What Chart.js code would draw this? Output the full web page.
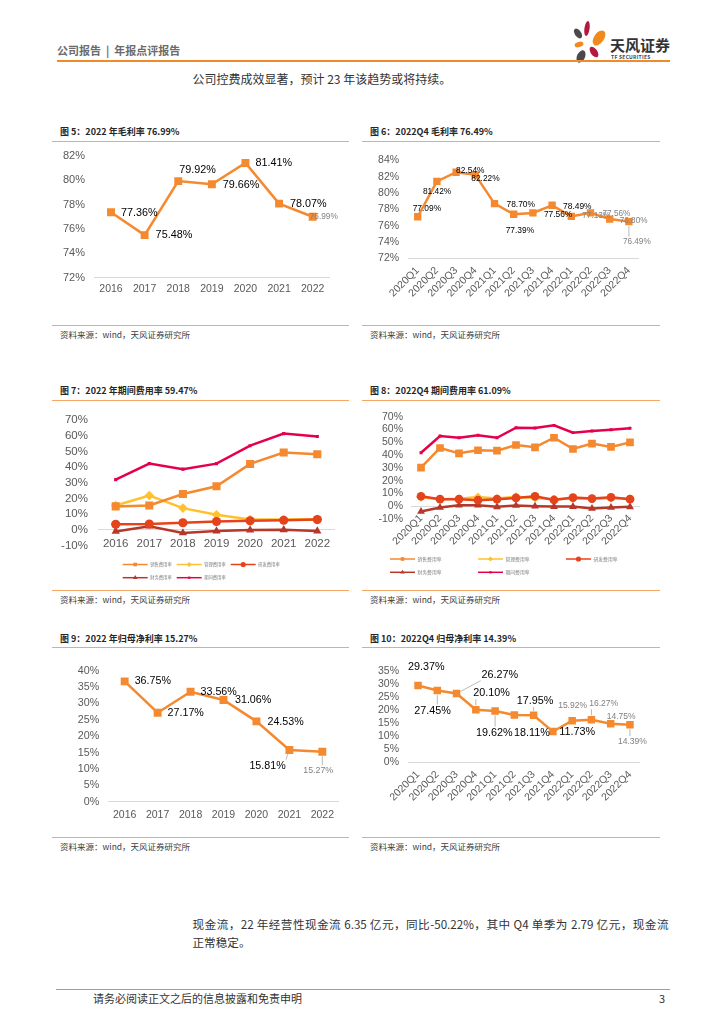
<!DOCTYPE html>
<html lang="zh-CN">
<head>
<meta charset="utf-8">
<title>年报点评报告</title>
<script src="https://cdn.jsdelivr.net/npm/chart.js@4.4.1/dist/chart.umd.min.js"></script>
<style>
  html, body { margin: 0; padding: 0; background: #fff; }
  body { position: relative; width: 724px; height: 1024px; overflow: hidden; font-family: "Noto Sans CJK SC", "Liberation Sans", sans-serif; color: #333; }
  .t { position: absolute; white-space: nowrap; line-height: 1; }
  .fig { font-size: 9px; font-weight: bold; color: #262626; }
  .src { font-size: 8.5px; color: #404040; }
  .rule { position: absolute; height: 1px; background: #F5A766; }
  .chart { position: absolute; }
</style>
</head>
<body>

<div class="t" style="left:57px;top:44.6px;font-size:11px;font-weight:bold;color:#6b6b6b">公司报告&nbsp;&nbsp;|&nbsp;&nbsp;年报点评报告</div>
<svg style="position:absolute;left:568px;top:20px" width="42" height="46" viewBox="0 0 42 46">
  <ellipse cx="19" cy="8.5" rx="2.6" ry="7.5" fill="#B3183D" transform="rotate(8 19 8.5)"/>
  <ellipse cx="10" cy="13.5" rx="3.2" ry="5.5" fill="#4A4A4A" transform="rotate(-35 10 13.5)"/>
  <ellipse cx="31" cy="18" rx="5" ry="8.5" fill="#F08A1E" transform="rotate(35 31 18)"/>
  <ellipse cx="11" cy="24.5" rx="4.5" ry="2.6" fill="#F08A1E" transform="rotate(-15 11 24.5)"/>
  <ellipse cx="26" cy="32" rx="3.3" ry="6" fill="#B3183D" transform="rotate(-35 26 32)"/>
  <ellipse cx="13" cy="36.5" rx="4" ry="6.5" fill="#4A4A4A" transform="rotate(25 13 36.5)"/>
</svg>
<div class="t" style="left:610px;top:37.2px;font-size:15px;font-weight:bold;color:#333">天风证券</div>
<div class="t" style="left:611px;top:53.5px;font-size:10px;font-weight:bold;color:#444;transform:scale(0.5);transform-origin:0 0;letter-spacing:0.5px">TF SECURITIES</div>
<div style="position:absolute;left:57px;top:60px;width:613px;height:2px;background:#F08B2A"></div>

<div class="t" style="left:192.5px;top:72.6px;font-size:12px;color:#333">公司控费成效显著，预计 23 年该趋势或将持续。</div>

<div class="t fig" style="left:60px;top:127.3px">图 5：2022 年毛利率 76.99%</div>
<div class="t fig" style="left:370px;top:127.3px">图 6：2022Q4 毛利率 76.49%</div>
<div class="rule" style="left:52px;top:140.5px;width:297px"></div>
<div class="rule" style="left:362px;top:140.5px;width:298px"></div>
<div class="rule" style="left:52px;top:325.2px;width:297px"></div>
<div class="rule" style="left:362px;top:325.2px;width:298px"></div>
<div class="t src" style="left:60px;top:330.3px">资料来源：wind，天风证券研究所</div>
<div class="t src" style="left:370px;top:330.3px">资料来源：wind，天风证券研究所</div>

<div class="t fig" style="left:60px;top:385.7px">图 7：2022 年期间费用率 59.47%</div>
<div class="t fig" style="left:370px;top:385.7px">图 8：2022Q4 期间费用率 61.09%</div>
<div class="rule" style="left:52px;top:399.5px;width:297px"></div>
<div class="rule" style="left:362px;top:399.5px;width:298px"></div>
<div class="rule" style="left:52px;top:590.2px;width:297px"></div>
<div class="rule" style="left:362px;top:590.2px;width:298px"></div>
<div class="t src" style="left:60px;top:595.3px">资料来源：wind，天风证券研究所</div>
<div class="t src" style="left:370px;top:595.3px">资料来源：wind，天风证券研究所</div>

<div class="t fig" style="left:60px;top:634px">图 9：2022 年归母净利率 15.27%</div>
<div class="t fig" style="left:370px;top:634px">图 10：2022Q4 归母净利率 14.39%</div>
<div class="rule" style="left:52px;top:647.2px;width:297px"></div>
<div class="rule" style="left:362px;top:647.2px;width:298px"></div>
<div class="rule" style="left:52px;top:836.8px;width:297px"></div>
<div class="rule" style="left:362px;top:836.8px;width:298px"></div>
<div class="t src" style="left:60px;top:842px">资料来源：wind，天风证券研究所</div>
<div class="t src" style="left:370px;top:842px">资料来源：wind，天风证券研究所</div>

<div style="position:absolute;left:192.5px;top:918.6px;width:476px;font-size:11.6px;line-height:1;text-align:justify;text-align-last:justify;color:#333">现金流，22 年经营性现金流 6.35 亿元，同比-50.22%，其中 Q4 单季为 2.79 亿元，现金流</div>
<div class="t" style="left:192.5px;top:936.9px;font-size:11.6px;color:#333">正常稳定。</div>

<div style="position:absolute;left:56px;top:988.5px;width:614px;height:1.5px;background:#F08B2A"></div>
<div class="t" style="left:93px;top:993.2px;font-size:11px;color:#333">请务必阅读正文之后的信息披露和免责申明</div>
<div class="t" style="left:659px;top:993.2px;font-size:11px;color:#333">3</div>

<script>
Chart.defaults.font.family = '"Liberation Sans", Arial, sans-serif';

// categories
const years = ['2016', '2017', '2018', '2019', '2020', '2021', '2022'];
const quarters = ['2020Q1', '2020Q2', '2020Q3', '2020Q4', '2021Q1', '2021Q2', '2021Q3', '2021Q4',
                  '2022Q1', '2022Q2', '2022Q3', '2022Q4'];

// 毛利率
const grossYear = [77.36, 75.48, 79.92, 79.66, 81.41, 78.07, 76.99];
const grossQtr = [77.09, 81.42, 82.54, 82.22, 78.70, 77.39, 77.56, 78.49, 77.13, 77.56, 76.80, 76.49];

// 费用率
const expenseNames = ['销售费用率', '管理费用率', '研发费用率', '财务费用率', '期间费用率'];
const sellYear = [15.0, 15.6, 22.9, 27.8, 42.0, 49.3, 48.1];
const adminYear = [15.6, 21.9, 13.9, 9.7, 6.6, 6.6, 6.8];
const rdYear = [3.6, 3.8, 4.6, 5.4, 5.8, 6.2, 6.6];
const finYear = [-0.9, 2.4, -1.9, -0.7, 0.0, 0.1, -0.7];
const periodYear = [32.0, 42.2, 38.7, 42.2, 53.6, 61.3, 59.47];

const sellQtr = [30.2, 45.6, 41.4, 43.8, 43.5, 47.9, 46.1, 53.6, 44.8, 49.0, 46.4, 50.0];
const adminQtr = [7.0, 5.5, 5.8, 7.2, 6.0, 7.5, 6.5, 5.5, 6.0, 5.8, 6.2, 5.8];
const rdQtr = [7.8, 5.5, 5.5, 4.7, 5.5, 6.5, 7.8, 4.9, 6.8, 6.0, 7.0, 5.5];
const finQtr = [-4.2, -1.0, 0.8, 0.8, -0.5, 0.5, 0.0, -0.3, -0.3, -1.8, -1.0, -0.5];
const periodQtr = [41.9, 55.0, 53.6, 55.5, 53.6, 61.5, 61.2, 63.3, 57.6, 58.9, 59.9, 61.09];

// 归母净利率
const netYear = [36.75, 27.17, 33.56, 31.06, 24.53, 15.81, 15.27];
const netQtr = [29.37, 27.45, 26.27, 20.10, 19.62, 18.11, 17.95, 11.73, 15.92, 16.27, 14.75, 14.39];

// y tick values
const ticksGrossYear = [72, 74, 76, 78, 80, 82];
const ticksGrossQtr = [72, 74, 76, 78, 80, 82, 84];
const ticksExpense = [-10, 0, 10, 20, 30, 40, 50, 60, 70];
const ticksNetYear = [0, 5, 10, 15, 20, 25, 30, 35, 40];
const ticksNetQtr = [0, 5, 10, 15, 20, 25, 30, 35];

// styling
const ORANGE = '#F4892F';
const expenseColors = ['#F4892F', '#FFC12E', '#E5431C', '#B5382A', '#E6004C'];
const expenseMarkers = ['rect', 'rectRot', 'circle', 'triangle', 'rect'];
const expenseRadius = [5.7, 4.8, 4.6, 4.8, 2.2];
const expenseOrder = [3, 4, 1, 2, 0];

// label offsets from each point [dx, dy], text left-aligned
const lab5 = [[10, 1], [11, 0], [1, -11], [11, 1], [10, 0], [11, 0], [-3, 0]];
const lab6 = [[-5, -8], [-14, 10], [0, -2], [-4, 4], [12, 1.5], [-8, 16], [11, 1.5], [11, 1],
              [11, -1], [12, 1], [10, 2], [-6, 20]];
const lab9 = [[10, 0], [10, 0.6], [10, 0], [11.5, 0.3], [11, 0.6], [-40, 16], [-19, 19]];
const lab10 = [[-10, -18.6], [-23, 20.5], [25, -18.7], [-2.5, -16.7], [-19, 22], [-0.4, 17.8],
               [-17, -14.6], [6.3, 0.5], [-14, -15], [-2.2, -15.8], [-4, -6.6], [-12, 16.8]];

function marker(ctx, style, x, y, r) {
    ctx.beginPath();
    if (style === 'circle') ctx.arc(x, y, r, 0, Math.PI * 2);
    else if (style === 'rectRot') { ctx.moveTo(x, y - r); ctx.lineTo(x + r, y); ctx.lineTo(x, y + r); ctx.lineTo(x - r, y); }
    else if (style === 'triangle') { ctx.moveTo(x, y - r); ctx.lineTo(x + r * 0.87, y + r * 0.5); ctx.lineTo(x - r * 0.87, y + r * 0.5); }
    else ctx.rect(x - r * 0.7, y - r * 0.7, r * 1.4, r * 1.4);
    ctx.closePath();
    ctx.fill();
}

function drawLabels(chart, cfg) {
    const ctx = chart.ctx;
    const pts = chart.getDatasetMeta(0).data;
    const vals = chart.data.datasets[0].data;
    ctx.save();
    ctx.textAlign = 'left';
    ctx.textBaseline = 'middle';
    pts.forEach((pt, i) => {
        const gray = i >= cfg.grayFrom;
        const size = gray ? cfg.graySize : cfg.size;
        const txt = vals[i].toFixed(2) + '%';
        ctx.font = `${size}px "Liberation Sans", Arial, sans-serif`;
        const x = pt.x + cfg.offsets[i][0];
        const y = pt.y + cfg.offsets[i][1];
        const w = ctx.measureText(txt).width;
        if (cfg.leaders.includes(i)) {
            const nx = Math.min(Math.max(pt.x, x), x + w);
            const ny = Math.min(Math.max(pt.y, y - size / 2), y + size / 2);
            const d = Math.hypot(nx - pt.x, ny - pt.y);
            if (d > 6) {
                const ux = (nx - pt.x) / d, uy = (ny - pt.y) / d;
                ctx.strokeStyle = '#A6A6A6';
                ctx.lineWidth = 0.8;
                ctx.beginPath();
                ctx.moveTo(pt.x + ux * 4.5, pt.y + uy * 4.5);
                ctx.lineTo(nx - ux, ny - uy);
                ctx.stroke();
            }
        }
        ctx.fillStyle = gray ? '#808080' : '#000';
        ctx.fillText(txt, x, y);
    });
    ctx.restore();
}

function drawLegend(chart, lg, box) {
    const ctx = chart.ctx;
    ctx.save();
    chart.data.datasets.forEach((ds, i) => {
        const x = lg.x - box.x + (i % lg.cols) * lg.dx;
        const y = lg.y - box.y + Math.floor(i / lg.cols) * lg.dy;
        ctx.strokeStyle = ds.borderColor;
        ctx.fillStyle = ds.borderColor;
        ctx.lineWidth = 1.5;
        ctx.beginPath();
        ctx.moveTo(x, y);
        ctx.lineTo(x + lg.len, y);
        ctx.stroke();
        marker(ctx, ds.pointStyle, x + lg.len / 2, y, ds.pointStyle === 'rect' && i === 4 ? 1.6 : lg.r);
        ctx.fillStyle = '#7f7f7f';
        ctx.font = `${lg.size}px "Noto Sans CJK SC", sans-serif`;
        ctx.textBaseline = 'middle';
        ctx.fillText(ds.label, x + lg.len + 2.5, y);
    });
    ctx.restore();
}

function singleSet(data, r) {
    return [{
        data: data, borderColor: ORANGE, backgroundColor: ORANGE, borderWidth: 2.5,
        pointStyle: 'rect', pointRadius: r, pointBorderWidth: 0, tension: 0
    }];
}

function expenseSets(series, scale) {
    return series.map((d, i) => ({
        label: expenseNames[i], data: d,
        borderColor: expenseColors[i], backgroundColor: expenseColors[i],
        borderWidth: 2.5, pointStyle: expenseMarkers[i], pointRadius: expenseRadius[i] * scale,
        pointBorderWidth: 0, tension: 0, order: expenseOrder[i]
    }));
}

function makeChart(box, area, labels, datasets, yTicks, opt) {
    const holder = document.createElement('div');
    holder.className = 'chart';
    holder.style.cssText = `left:${box.x}px;top:${box.y}px;width:${box.w}px;height:${box.h}px`;
    const canvas = document.createElement('canvas');
    holder.appendChild(canvas);
    document.body.appendChild(holder);

    const extras = {
        id: 'extras',
        afterDatasetsDraw(chart) { if (opt.labels) drawLabels(chart, opt.labels); },
        afterDraw(chart) { if (opt.legend) drawLegend(chart, opt.legend, box); }
    };

    new Chart(canvas, {
        type: 'line',
        data: { labels: labels, datasets: datasets },
        options: {
            responsive: true,
            maintainAspectRatio: false,
            animation: false,
            layout: {
                padding: {
                    left: 0,
                    top: area.top - box.y,
                    right: box.x + box.w - area.right,
                    bottom: opt.axisAtZero ? box.y + box.h - area.bottom : 0
                }
            },
            plugins: { legend: { display: false }, tooltip: { enabled: false } },
            scales: {
                x: {
                    position: opt.axisAtZero ? { y: 0 } : 'bottom',
                    offset: true,
                    grid: { display: false, drawTicks: false },
                    border: { display: true, color: '#D9D9D9', width: 1 },
                    ticks: {
                        color: '#595959', font: { size: opt.xFont }, padding: opt.xPad,
                        autoSkip: false, minRotation: opt.rot, maxRotation: opt.rot
                    },
                    afterFit(s) { if (!opt.axisAtZero) s.height = box.y + box.h - area.bottom; }
                },
                y: {
                    min: yTicks[0],
                    max: yTicks[yTicks.length - 1],
                    grid: { display: false, drawTicks: false },
                    border: { display: false },
                    ticks: {
                        stepSize: yTicks[1] - yTicks[0], autoSkip: false,
                        color: '#595959', font: { size: opt.yFont }, padding: opt.yPad,
                        callback: v => v + '%'
                    },
                    afterFit(s) { s.width = area.left - box.x; }
                }
            }
        },
        plugins: [extras]
    });
}

// 图5
makeChart({ x: 52, y: 140, w: 298, h: 178 }, { left: 94.2, top: 152.3, right: 329.5, bottom: 277.5 },
    years, singleSet(grossYear, 5.6), ticksGrossYear,
    { yFont: 11, yPad: 9.2, xFont: 10.5, xPad: 5, rot: 0,
      labels: { offsets: lab5, size: 10.8, graySize: 8.3, grayFrom: 6, leaders: [] } });

// 图6
makeChart({ x: 362, y: 145, w: 298, h: 175 }, { left: 408.1, top: 158, right: 638.5, bottom: 258.3 },
    quarters, singleSet(grossQtr, 5.2), ticksGrossQtr,
    { yFont: 10.5, yPad: 9, xFont: 10.5, xPad: 6, rot: 45,
      labels: { offsets: lab6, size: 8.4, graySize: 8.2, grayFrom: 8, leaders: [11] } });

// 图7
makeChart({ x: 52, y: 402, w: 298, h: 186 }, { left: 98.9, top: 414.3, right: 334.1, bottom: 545.7 },
    years, expenseSets([sellYear, adminYear, rdYear, finYear, periodYear], 1), ticksExpense,
    { axisAtZero: true, yFont: 11.5, yPad: 11, xFont: 11.5, xPad: 7, rot: 0,
      legend: { x: 122.7, y: 564.5, dx: 54, dy: 13.2, cols: 3, len: 25, r: 2.6, size: 4.3 } });

// 图8
makeChart({ x: 362, y: 402, w: 298, h: 182 }, { left: 411.5, top: 416.7, right: 639.5, bottom: 519 },
    quarters, expenseSets([sellQtr, adminQtr, rdQtr, finQtr, periodQtr], 0.95), ticksExpense,
    { axisAtZero: true, yFont: 10.5, yPad: 8.5, xFont: 10.5, xPad: 6, rot: 45,
      legend: { x: 390, y: 559, dx: 88, dy: 13.3, cols: 3, len: 25, r: 2.6, size: 4.8 } });

// 图9
makeChart({ x: 52, y: 655, w: 298, h: 175 }, { left: 108.2, top: 670.7, right: 338.8, bottom: 801.7 },
    years, singleSet(netYear, 5.6), ticksNetYear,
    { yFont: 10.7, yPad: 9, xFont: 10.5, xPad: 7, rot: 0,
      labels: { offsets: lab9, size: 10.7, graySize: 8.8, grayFrom: 6, leaders: [5, 6] } });

// 图10
makeChart({ x: 362, y: 655, w: 298, h: 178 }, { left: 408.4, top: 667.3, right: 639.6, bottom: 762.3 },
    quarters, singleSet(netQtr, 5.3), ticksNetQtr,
    { yFont: 10.5, yPad: 9.4, xFont: 10.5, xPad: 6, rot: 45,
      labels: { offsets: lab10, size: 10.8, graySize: 8.5, grayFrom: 8, leaders: [1, 2, 3, 4, 6, 9, 11] } });
</script>
</body>
</html>
